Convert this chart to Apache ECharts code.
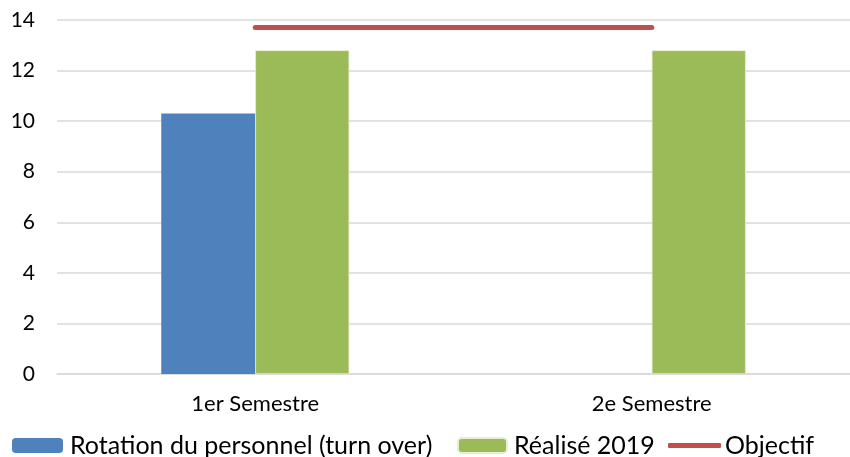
<!DOCTYPE html>
<html>
<head>
<meta charset="utf-8">
<script src="https://cdn.jsdelivr.net/npm/echarts@6/dist/echarts.min.js"></script>
<style>
html,body{margin:0;padding:0;background:#fff;}
#c{width:850px;height:457px;}
</style>
</head>
<body>
<div id="c"></div>
<script>
const categories = ['1er Semestre', '2e Semestre'];
const rotation = [10.3, null];
const realise = [12.8, 12.8];
const objectif = [13.7, 13.7];
const yTicks = {min: 0, max: 14, interval: 2};

const FONT = 'Lato';
const chart = echarts.init(document.getElementById('c'));
const legendText = {fontFamily: FONT, fontSize: 25, color: '#000', lineHeight: 27};
chart.setOption({
  animation: false,
  textStyle: {fontFamily: FONT, color: '#000'},
  grid: {left: 57, right: 0, top: 20, bottom: 83, containLabel: false},
  legend: [
    {data: ['Rotation du personnel (turn over)'], left: 12, top: 432, padding: 0, itemWidth: 51, itemHeight: 15,
     textStyle: Object.assign({}, legendText, {padding: [0,0,0,2]})},
    {data: ['Réalisé 2019'], left: 457, top: 432, padding: 0, itemWidth: 49, itemHeight: 15,
     textStyle: Object.assign({}, legendText, {padding: [0,0,0,2]})},
    {data: [{name: 'Objectif', icon: 'roundRect'}], left: 668, top: 432, padding: 0, itemWidth: 53, itemHeight: 5,
     textStyle: Object.assign({}, legendText, {padding: [0,0,0,-1]})}
  ],
  xAxis: {
    type: 'category',
    data: categories,
    axisLine: {show: true, lineStyle: {color: '#D9D9D9', width: 1.5}},
    axisTick: {show: false},
    axisLabel: {fontFamily: FONT, fontSize: 22, color: '#000', margin: 19}
  },
  yAxis: {
    type: 'value',
    min: yTicks.min, max: yTicks.max, interval: yTicks.interval,
    axisLine: {show: false},
    axisTick: {show: false},
    splitLine: {lineStyle: {color: '#D9D9D9', width: 1.5}},
    axisLabel: {fontFamily: FONT, fontSize: 21, color: '#000', margin: 22}
  },
  series: [
    {name: 'Rotation du personnel (turn over)', type: 'bar', data: rotation, barWidth: 94, barGap: '0%',
     itemStyle: {color: '#4F81BD'}},
    {name: 'Réalisé 2019', type: 'bar', data: realise, barWidth: 94, barGap: '0%',
     itemStyle: {color: '#9BBB59', borderColor: '#E6EFD2', borderWidth: 0.7}},
    {name: 'Objectif', type: 'line', data: objectif, symbol: 'none',
     lineStyle: {color: '#C0504D', width: 5, cap: 'round'}, itemStyle: {color: '#C0504D'}}
  ]
});
</script>
</body>
</html>
